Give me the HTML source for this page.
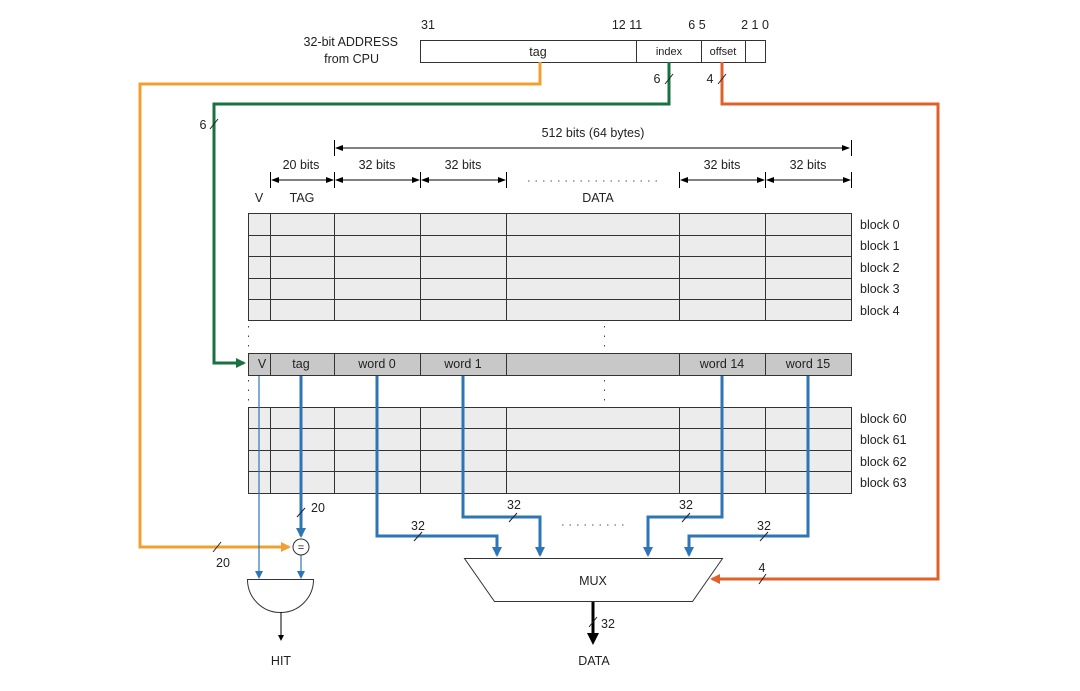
<!DOCTYPE html>
<html><head><meta charset="utf-8"><style>
body{margin:0;background:#fff}
svg{display:block}
text{font-family:"Liberation Sans",sans-serif;font-size:12.5px;fill:#222}
</style></head><body>
<svg width="1080" height="691" viewBox="0 0 1080 691" xmlns="http://www.w3.org/2000/svg">
<defs>
<marker id="ab" markerWidth="8" markerHeight="8" refX="6" refY="4" orient="auto" markerUnits="userSpaceOnUse" viewBox="0 0 8 8"><path d="M0,0 L8,4 L0,8z" fill="#2e75b6"/></marker>
<marker id="ao" markerWidth="10" markerHeight="10" refX="8" refY="5" orient="auto" markerUnits="userSpaceOnUse"><path d="M0,0 L10,5 L0,10z" fill="#f0a030"/></marker>
<marker id="ag" markerWidth="10" markerHeight="10" refX="8" refY="5" orient="auto" markerUnits="userSpaceOnUse"><path d="M0,0 L10,5 L0,10z" fill="#1a7040"/></marker>
<marker id="ar" markerWidth="10" markerHeight="10" refX="8" refY="5" orient="auto" markerUnits="userSpaceOnUse"><path d="M0,0 L10,5 L0,10z" fill="#e0602a"/></marker>
<marker id="abl" markerWidth="10" markerHeight="10" refX="8" refY="5" orient="auto" markerUnits="userSpaceOnUse"><path d="M0,0 L10,5 L0,10z" fill="#2e75b6"/></marker>
<marker id="ak" markerWidth="12" markerHeight="12" refX="9" refY="6" orient="auto" markerUnits="userSpaceOnUse"><path d="M0,0 L12,6 L0,12z" fill="#000"/></marker>
<marker id="ak2" markerWidth="6" markerHeight="6" refX="5" refY="3" orient="auto" markerUnits="userSpaceOnUse"><path d="M0,0 L6,3 L0,6z" fill="#000"/></marker>
<marker id="dm" markerWidth="8" markerHeight="8" refX="7" refY="4" orient="auto-start-reverse" markerUnits="userSpaceOnUse"><path d="M0,1 L8,4 L0,7z" fill="#000"/></marker>
</defs>

<!-- address -->
<text x="398" y="46" text-anchor="end">32-bit ADDRESS</text>
<text x="379" y="63" text-anchor="end">from CPU</text>
<text x="428" y="29" text-anchor="middle">31</text>
<text x="627" y="29" text-anchor="middle">12 11</text>
<text x="697" y="29" text-anchor="middle">6 5</text>
<text x="755" y="29" text-anchor="middle">2 1 0</text>
<rect x="420.5" y="40.5" width="345" height="22" fill="#fff" stroke="#333"/>
<line x1="636.5" y1="40" x2="636.5" y2="62" stroke="#333"/>
<line x1="701.5" y1="40" x2="701.5" y2="62" stroke="#333"/>
<line x1="745.5" y1="40" x2="745.5" y2="62" stroke="#333"/>
<text x="538" y="56" text-anchor="middle">tag</text>
<text x="669" y="55" text-anchor="middle" style="font-size:11px">index</text>
<text x="723" y="55" text-anchor="middle" style="font-size:11px">offset</text>

<!-- colored buses -->
<path d="M540,62 V84 H140 V547 H289" fill="none" stroke="#f0a030" stroke-width="3" marker-end="url(#ao)"/>
<path d="M669,62 V104 H214 V363 H244" fill="none" stroke="#1a7040" stroke-width="3" marker-end="url(#ag)"/>
<path d="M722,62 V104 H938 V579 H712" fill="none" stroke="#e0602a" stroke-width="3" marker-end="url(#ar)"/>
<g stroke="#222" stroke-width="1">
<line x1="665" y1="84" x2="673" y2="74"/><line x1="718" y1="84" x2="726" y2="74"/>
<line x1="210" y1="129" x2="218" y2="119"/><line x1="213" y1="552" x2="221" y2="542"/>
<line x1="759" y1="584" x2="766" y2="574"/>
</g>
<text x="657" y="83" text-anchor="middle">6</text>
<text x="710" y="83" text-anchor="middle">4</text>
<text x="203" y="129" text-anchor="middle">6</text>
<text x="223" y="567" text-anchor="middle">20</text>
<text x="762" y="572" text-anchor="middle">4</text>

<!-- dimensions -->
<text x="593" y="137" text-anchor="middle">512 bits (64 bytes)</text>
<line x1="336" y1="148" x2="849" y2="148" stroke="#000" marker-start="url(#dm)" marker-end="url(#dm)"/>
<g stroke="#000"><line x1="334.5" y1="140" x2="334.5" y2="156"/><line x1="851.5" y1="140" x2="851.5" y2="156"/>
<line x1="270.5" y1="172" x2="270.5" y2="188"/><line x1="334.5" y1="172" x2="334.5" y2="188"/><line x1="420.5" y1="172" x2="420.5" y2="188"/><line x1="506.5" y1="172" x2="506.5" y2="188"/><line x1="679.5" y1="172" x2="679.5" y2="188"/><line x1="765.5" y1="172" x2="765.5" y2="188"/><line x1="851.5" y1="172" x2="851.5" y2="188"/></g>
<g stroke="#000" marker-start="url(#dm)" marker-end="url(#dm)">
<line x1="272" y1="180" x2="333" y2="180"/><line x1="336" y1="180" x2="419" y2="180"/><line x1="422" y1="180" x2="505" y2="180"/><line x1="681" y1="180" x2="764" y2="180"/><line x1="767" y1="180" x2="850" y2="180"/>
</g>
<line x1="528" y1="181" x2="660" y2="181" stroke="#555" stroke-dasharray="1.5,6"/>
<text x="301" y="169" text-anchor="middle">20 bits</text>
<text x="377" y="169" text-anchor="middle">32 bits</text>
<text x="463" y="169" text-anchor="middle">32 bits</text>
<text x="722" y="169" text-anchor="middle">32 bits</text>
<text x="808" y="169" text-anchor="middle">32 bits</text>
<text x="259" y="202" text-anchor="middle">V</text>
<text x="302" y="202" text-anchor="middle">TAG</text>
<text x="598" y="202" text-anchor="middle">DATA</text>

<!-- tables -->
<g stroke="#333" stroke-width="1">
<rect x="248.5" y="213.5" width="603" height="107" fill="#ececec"/>
<rect x="248.5" y="353.5" width="603" height="22" fill="#c8c8c8"/>
<rect x="248.5" y="407.5" width="603" height="86" fill="#ececec"/>
<path d="M248,235.5H851M248,256.5H851M248,278.5H851M248,299.5H851M248,428.5H851M248,450.5H851M248,471.5H851"/>
<path d="M270.5,213V321M334.5,213V321M420.5,213V321M506.5,213V321M679.5,213V321M765.5,213V321"/>
<path d="M270.5,407V493M334.5,407V493M420.5,407V493M506.5,407V493M679.5,407V493M765.5,407V493"/>
<path d="M270.5,353V375M334.5,353V375M420.5,353V375M506.5,353V375M679.5,353V375M765.5,353V375"/>
</g>
<g stroke="#444" stroke-dasharray="1.5,8">
<line x1="248.5" y1="326" x2="248.5" y2="352"/><line x1="248.5" y1="380" x2="248.5" y2="406"/>
<line x1="604.5" y1="326" x2="604.5" y2="352"/><line x1="604.5" y1="380" x2="604.5" y2="406"/>
</g>
<text x="262" y="368" text-anchor="middle">V</text>
<text x="301" y="368" text-anchor="middle">tag</text>
<text x="377" y="368" text-anchor="middle">word 0</text>
<text x="463" y="368" text-anchor="middle">word 1</text>
<text x="722" y="368" text-anchor="middle">word 14</text>
<text x="808" y="368" text-anchor="middle">word 15</text>
<g>
<text x="860" y="229">block 0</text><text x="860" y="250">block 1</text><text x="860" y="272">block 2</text><text x="860" y="293">block 3</text><text x="860" y="315">block 4</text>
<text x="860" y="423">block 60</text><text x="860" y="444">block 61</text><text x="860" y="466">block 62</text><text x="860" y="487">block 63</text>
</g>

<!-- blue -->
<line x1="259" y1="376" x2="259" y2="577" stroke="#2e75b6" stroke-width="1.2" marker-end="url(#ab)"/>
<line x1="301" y1="376" x2="301" y2="536" stroke="#2e75b6" stroke-width="3" marker-end="url(#abl)"/>
<line x1="301" y1="555" x2="301" y2="577" stroke="#2e75b6" stroke-width="1.2" marker-end="url(#ab)"/>
<g fill="none" stroke="#2e75b6" stroke-width="3">
<path d="M377,376 V536 H497 V555" marker-end="url(#abl)"/>
<path d="M463,376 V517 H540 V555" marker-end="url(#abl)"/>
<path d="M722,376 V517 H648 V555" marker-end="url(#abl)"/>
<path d="M808,376 V536 H689 V555" marker-end="url(#abl)"/>
</g>
<g stroke="#222"><line x1="297" y1="517" x2="305" y2="508"/><line x1="414" y1="541" x2="422" y2="532"/><line x1="509" y1="522" x2="517" y2="513"/><line x1="682" y1="522" x2="690" y2="513"/><line x1="760" y1="541" x2="768" y2="532"/></g>
<text x="318" y="512" text-anchor="middle">20</text>
<text x="418" y="530" text-anchor="middle">32</text>
<text x="514" y="509" text-anchor="middle">32</text>
<text x="686" y="509" text-anchor="middle">32</text>
<text x="764" y="530" text-anchor="middle">32</text>
<line x1="562" y1="525" x2="626" y2="525" stroke="#555" stroke-dasharray="1.5,6"/>

<!-- comparator & and -->
<circle cx="301" cy="547" r="8" fill="#fff" stroke="#333"/>
<text x="301" y="551" text-anchor="middle" style="font-size:11px">=</text>
<path d="M247.5,579.5 H313.5 A33,33 0 0 1 247.5,579.5 Z" fill="#fff" stroke="#333"/>
<line x1="281" y1="612" x2="281" y2="640" stroke="#000" marker-end="url(#ak2)"/>
<text x="281" y="665" text-anchor="middle">HIT</text>

<!-- mux -->
<path d="M464.5,558.5 H722.5 L692.5,601.5 H494.5 Z" fill="#fff" stroke="#333"/>
<text x="593" y="585" text-anchor="middle">MUX</text>
<line x1="593" y1="602" x2="593" y2="642" stroke="#000" stroke-width="3" marker-end="url(#ak)"/>
<line x1="589" y1="627" x2="597" y2="617" stroke="#222"/>
<text x="608" y="628" text-anchor="middle">32</text>
<text x="594" y="665" text-anchor="middle">DATA</text>
</svg>
</body></html>
